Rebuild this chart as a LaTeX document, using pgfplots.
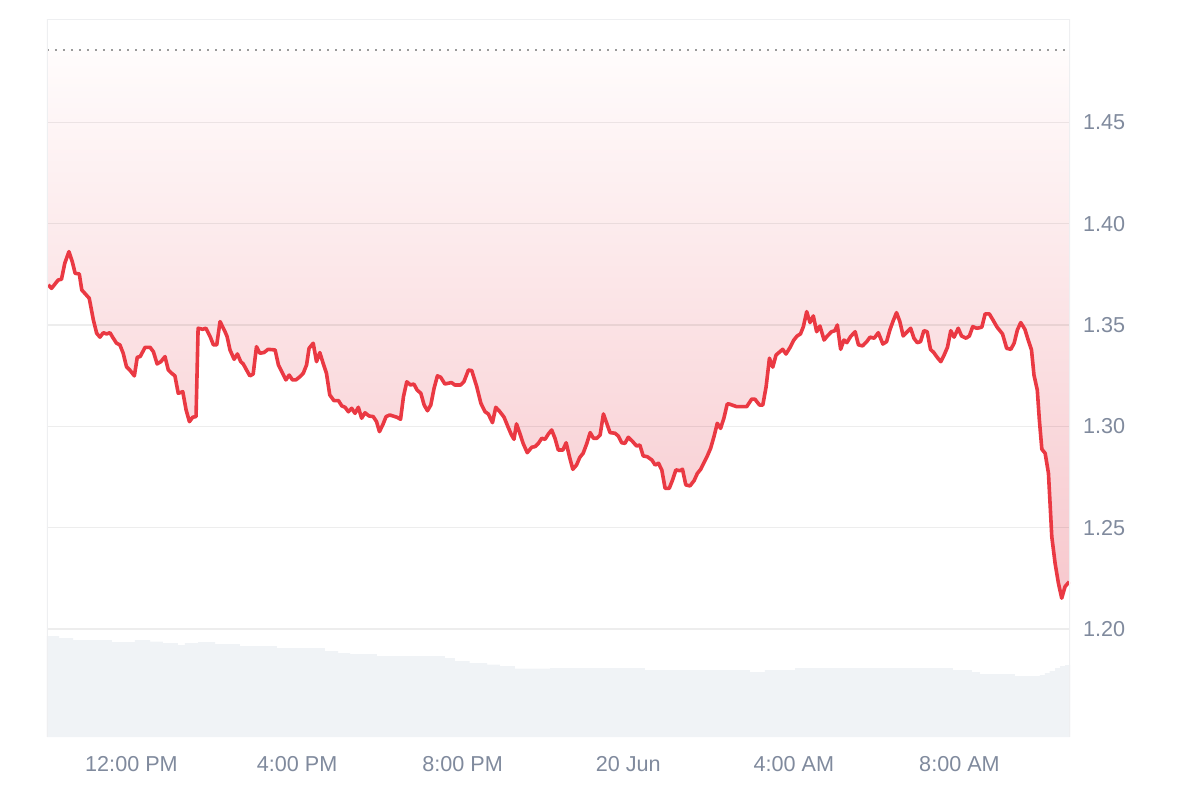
\documentclass[border=0pt]{standalone}
\usepackage{pgfplots}
\pgfplotsset{compat=1.18}
\usepackage{pgfplotstable}
\usepackage{fontspec}
\setmainfont{Liberation Sans}

\definecolor{linered}{RGB}{234,57,67}
\definecolor{fillbot}{RGB}{247,200,205}
\definecolor{fillmid}{RGB}{252,234,236}
\definecolor{filltop}{RGB}{255,252,252}
\definecolor{volcol}{RGB}{240,243,246}
\definecolor{labcol}{RGB}{128,138,157}
\definecolor{dotcol}{RGB}{155,155,155}
\definecolor{framecol}{RGB}{238,239,241}

\pgfplotstableread{
h p
9.99 1.3698
10.07 1.3681
10.23 1.3722
10.31 1.3726
10.39 1.3805
10.49 1.3862
10.57 1.3813
10.64 1.3755
10.74 1.3752
10.80 1.3673
10.98 1.3632
11.08 1.3525
11.16 1.3459
11.24 1.3440
11.32 1.3462
11.40 1.3456
11.48 1.3462
11.56 1.3435
11.64 1.3410
11.72 1.3402
11.80 1.3361
11.88 1.3294
11.96 1.3278
12.07 1.3249
12.14 1.3341
12.21 1.3344
12.33 1.3390
12.45 1.3390
12.53 1.3368
12.62 1.3308
12.71 1.3319
12.81 1.3344
12.89 1.3278
12.97 1.3262
13.05 1.3249
13.13 1.3163
13.24 1.3171
13.32 1.3081
13.40 1.3023
13.48 1.3045
13.56 1.3048
13.61 1.3484
13.72 1.3479
13.80 1.3484
13.90 1.3443
13.98 1.3402
14.06 1.3402
14.14 1.3517
14.26 1.3467
14.31 1.3443
14.38 1.3377
14.48 1.3331
14.56 1.3357
14.64 1.3319
14.70 1.3308
14.78 1.3278
14.86 1.3249
14.94 1.3258
15.02 1.3393
15.10 1.3361
15.20 1.3364
15.30 1.3380
15.47 1.3377
15.55 1.3303
15.63 1.3270
15.73 1.3229
15.81 1.3253
15.89 1.3229
15.97 1.3229
16.07 1.3245
16.15 1.3262
16.23 1.3303
16.29 1.3385
16.39 1.3410
16.47 1.3319
16.55 1.3364
16.63 1.3311
16.71 1.3262
16.79 1.3155
16.89 1.3127
17.00 1.3127
17.08 1.3101
17.16 1.3094
17.24 1.3072
17.32 1.3089
17.40 1.3064
17.48 1.3094
17.56 1.3040
17.64 1.3067
17.74 1.3051
17.84 1.3048
17.92 1.3023
17.99 1.2974
18.07 1.3007
18.15 1.3048
18.24 1.3056
18.41 1.3045
18.50 1.3035
18.57 1.3146
18.65 1.3220
18.74 1.3204
18.82 1.3209
18.90 1.3179
18.99 1.3163
19.07 1.3105
19.15 1.3077
19.23 1.3105
19.31 1.3188
19.39 1.3249
19.47 1.3242
19.57 1.3209
19.73 1.3216
19.81 1.3204
19.95 1.3204
20.03 1.3220
20.14 1.3278
20.22 1.3275
20.34 1.3196
20.44 1.3114
20.54 1.3072
20.62 1.3061
20.72 1.3018
20.80 1.3094
20.90 1.3072
21.00 1.3045
21.10 1.2995
21.18 1.2957
21.24 1.2936
21.30 1.3012
21.38 1.2966
21.46 1.2916
21.56 1.2870
21.67 1.2897
21.75 1.2900
21.83 1.2916
21.91 1.2941
21.99 1.2936
22.07 1.2962
22.15 1.2982
22.23 1.2941
22.31 1.2883
22.42 1.2883
22.50 1.2919
22.58 1.2850
22.66 1.2788
22.75 1.2809
22.83 1.2847
22.91 1.2867
23.00 1.2916
23.08 1.2969
23.16 1.2941
23.24 1.2941
23.32 1.2957
23.40 1.3061
23.48 1.3015
23.56 1.2969
23.68 1.2966
23.76 1.2952
23.84 1.2919
23.92 1.2916
24.00 1.2946
24.11 1.2924
24.20 1.2903
24.28 1.2908
24.36 1.2854
24.46 1.2850
24.57 1.2834
24.65 1.2809
24.73 1.2818
24.81 1.2785
24.89 1.2694
24.99 1.2694
25.07 1.2735
25.15 1.2785
25.25 1.2781
25.31 1.2788
25.39 1.2711
25.49 1.2706
25.59 1.2732
25.67 1.2768
25.75 1.2788
25.83 1.2821
25.91 1.2854
25.99 1.2892
26.07 1.2949
26.15 1.3015
26.23 1.2990
26.31 1.3040
26.39 1.3110
26.44 1.3110
26.62 1.3097
26.86 1.3097
26.98 1.3134
27.06 1.3134
27.17 1.3105
27.25 1.3105
27.33 1.3196
27.41 1.3336
27.49 1.3292
27.57 1.3352
27.73 1.3380
27.81 1.3357
27.91 1.3390
28.00 1.3426
28.08 1.3446
28.16 1.3456
28.23 1.3492
28.31 1.3566
28.39 1.3512
28.47 1.3545
28.55 1.3467
28.63 1.3495
28.73 1.3426
28.81 1.3446
28.91 1.3467
28.99 1.3472
29.05 1.3500
29.13 1.3380
29.21 1.3426
29.28 1.3413
29.37 1.3443
29.48 1.3467
29.56 1.3402
29.66 1.3397
29.76 1.3418
29.84 1.3440
29.94 1.3435
30.04 1.3462
30.15 1.3406
30.24 1.3418
30.32 1.3476
30.40 1.3521
30.48 1.3561
30.56 1.3517
30.64 1.3446
30.74 1.3467
30.82 1.3484
30.90 1.3435
30.98 1.3413
31.06 1.3418
31.14 1.3472
31.22 1.3467
31.30 1.3380
31.38 1.3364
31.46 1.3341
31.55 1.3319
31.63 1.3352
31.71 1.3390
31.79 1.3472
31.87 1.3440
31.97 1.3484
32.05 1.3446
32.16 1.3435
32.24 1.3446
32.32 1.3492
32.42 1.3484
32.54 1.3489
32.62 1.3555
32.72 1.3555
32.82 1.3521
32.91 1.3489
33.04 1.3456
33.14 1.3385
33.24 1.3380
33.32 1.3410
33.40 1.3476
33.48 1.3512
33.58 1.3479
33.66 1.3426
33.74 1.3377
33.80 1.3253
33.88 1.3179
33.93 1.3031
33.99 1.2887
34.07 1.2867
34.15 1.2768
34.23 1.2456
34.31 1.2324
34.39 1.2226
34.47 1.2152
34.55 1.2209
34.65 1.2233
}\price

\pgfplotstableread{
h v
9.96 101
10.25 99
10.59 97
11.53 95
12.08 97
12.45 95.5
12.76 94
13.12 92
13.29 94
13.61 95
14.02 93
14.62 91
15.51 89
16.67 86
16.99 84
17.28 83
17.93 81
19.57 79
19.81 76
20.17 74
20.59 72.5
20.90 71
21.26 68.5
22.11 69
24.40 67
26.94 65
27.30 67
28.03 69
31.84 67
32.30 65
32.49 63
33.34 61
33.94 62
34.06 64
34.18 66
34.31 69
34.43 71
34.55 72
34.67 72
}\volume

\pgfplotsset{
  common/.style={
    at={(0,0)}, anchor=south west,
    width=511.5pt, height=359pt, scale only axis,
    xmin=9.96, xmax=34.67,
    axis line style={draw=none},
  },
  bare/.style={common, xtick=\empty, ytick=\empty},
}

\begin{document}
\begin{tikzpicture}
\path[use as bounding box] (-23.5pt,-31.5pt) rectangle (576.5pt,368.5pt);
% volume axis
\begin{axis}[bare, ymin=0, ymax=718]
\addplot[const plot, fill=volcol, draw=none] table[x=h, y=v] {\volume} \closedcycle;
\end{axis}
% gradient fill between the price and the baseline
\begin{axis}[bare, ymin=1.1467, ymax=1.5010]
\addplot[top color=filltop, middle color=fillmid, bottom color=fillbot, draw=none] table[x=h, y=p] {\price}
  -- (axis cs:34.65,1.4858) -- (axis cs:9.99,1.4858) -- cycle;
\end{axis}
% price axis
\begin{axis}[
  common,
  ymin=1.1467, ymax=1.5010,
  major tick length=0pt,
  xtick={12,16,20,24,28,32},
  xticklabels={12:00 PM, 4:00 PM, 8:00 PM, 20 Jun, 4:00 AM, 8:00 AM},
  ytick={1.20,1.25,1.30,1.35,1.40,1.45},
  yticklabels={1.20,1.25,1.30,1.35,1.40,1.45},
  yticklabel pos=right,
  ymajorgrids,
  grid style={draw=black, draw opacity=0.07, line width=0.8pt},
  ticklabel style={font=\fontsize{10.8}{13}\selectfont, text=labcol},
  yticklabel style={anchor=west, xshift=3pt},
  xticklabel style={anchor=north, yshift=-6.4pt},
]
\addplot[draw=dotcol, line width=1.2pt, dash pattern=on 1.2pt off 2.8pt] coordinates {(9.96,1.4858) (34.55,1.4858)};
\addplot[linered, line width=1.8pt, line join=round] table[x=h, y=p] {\price};
\draw[framecol, line width=1pt] (axis cs:9.96,1.1467) -- (axis cs:9.96,1.5010) -- (axis cs:34.67,1.5010) -- (axis cs:34.67,1.1467);
\end{axis}
\end{tikzpicture}
\end{document}
